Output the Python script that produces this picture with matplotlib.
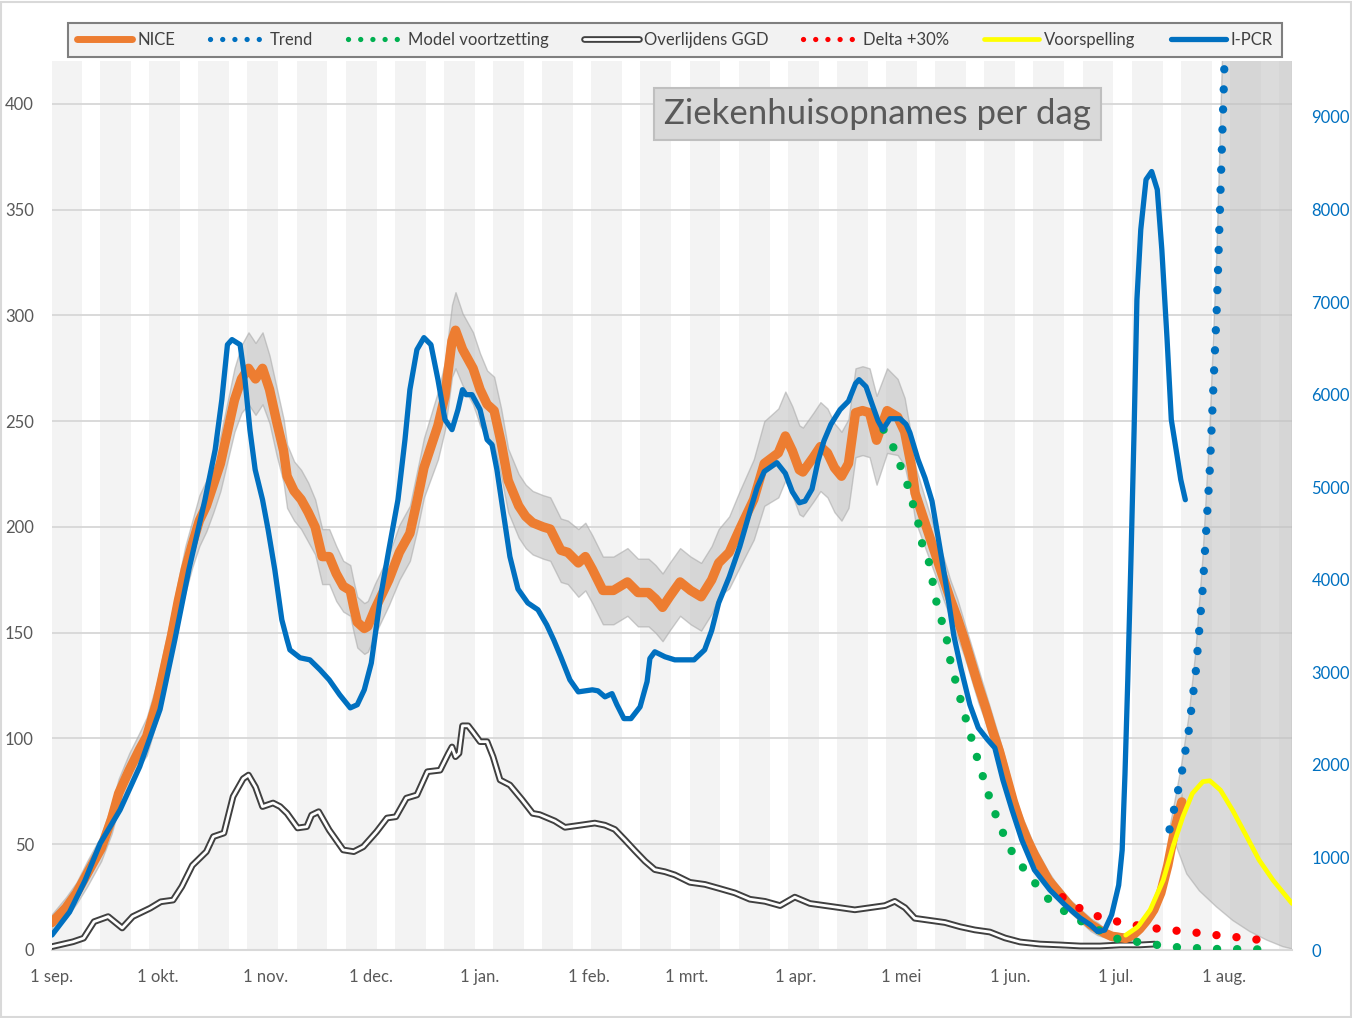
import numpy as np
import matplotlib
matplotlib.use("Agg")
import matplotlib.pyplot as plt
from matplotlib.lines import Line2D
from matplotlib.patches import Rectangle

plt.rcParams['font.family'] = ['Lato', 'DejaVu Sans']

# ---------------- data (day 0 = 1 sep 2020) ----------------
month_ticks = [0, 30, 61, 91, 122, 153, 181, 212, 242, 273, 303, 334]
month_labels = ['1 sep.', '1 okt.', '1 nov.', '1 dec.', '1 jan.', '1 feb.',
                '1 mrt.', '1 apr.', '1 mei', '1 jun.', '1 jul.', '1 aug.']

nice_days = [0, 4, 7, 10, 14, 17, 19, 22, 25, 27,
             30, 32, 34, 36, 38, 40, 42, 44, 46, 48,
             50, 52, 54, 56, 58, 60, 62, 64, 66, 67,
             69, 71, 73, 75, 77, 79, 81, 83, 85, 86,
             87, 89, 90, 92, 94, 96, 99, 102, 104, 106,
             108, 110, 112, 114, 115, 117, 119, 120, 122, 124,
             126, 128, 130, 133, 135, 137, 140, 142, 145, 147,
             150, 152, 154, 157, 160, 164, 167, 170, 172, 174,
             176, 179, 182, 185, 188, 190, 193, 196, 200, 203,
             207, 209, 211, 213, 214, 217, 219, 221, 223, 225,
             227, 229, 231, 233, 235, 238, 241, 243, 245, 246,
             248, 250, 252, 254, 256, 258, 260, 262, 264, 266,
             268, 270, 272, 274, 276, 278, 280, 282, 284, 286,
             288, 290, 292, 294, 296, 298, 300, 302, 304, 306,
             308, 310, 312, 314, 316, 318, 320, 322]
nice_vals = [13, 20, 27, 36, 48, 62, 74, 85, 95, 101,
             118, 133, 148, 165, 180, 192, 203, 210, 220, 230,
             245, 260, 270, 275, 270, 275, 265, 250, 236, 224,
             217, 213, 207, 200, 186, 186, 178, 172, 170, 162,
             155, 152, 153, 161, 168, 175, 188, 197, 212, 228,
             238, 248, 262, 288, 293, 284, 278, 275, 265, 258,
             255, 240, 222, 210, 205, 202, 200, 199, 189, 188,
             183, 186, 180, 170, 170, 174, 169, 169, 166, 162,
             167, 174, 170, 167, 175, 183, 188, 199, 213, 230,
             235, 243, 236, 227, 226, 233, 238, 235, 228, 224,
             230, 254, 255, 254, 241, 255, 252, 245, 228, 216,
             206, 196, 186, 176, 166, 157, 147, 136, 125, 115,
             104, 94, 82, 70, 60, 52, 45, 39, 33, 29,
             25, 21, 18, 15, 12, 10, 8, 6.5, 6, 5.5,
             7, 10, 14, 19, 27, 40, 57, 70]
nice_band = [4, 5, 5, 6, 6, 7, 7, 8, 8, 9,
             9, 10, 10, 10, 11, 11, 12, 12, 13, 13,
             14, 15, 16, 17, 17, 17, 16, 16, 15, 15,
             14, 14, 14, 13, 13, 13, 13, 12, 12, 12,
             12, 12, 12, 12, 12, 12, 13, 13, 14, 14,
             15, 16, 16, 17, 18, 17, 17, 17, 17, 16,
             16, 16, 15, 15, 15, 15, 15, 15, 15, 15,
             16, 16, 16, 16, 16, 16, 16, 16, 16, 16,
             16, 16, 16, 16, 16, 16, 17, 18, 19, 20,
             21, 21, 21, 21, 21, 21, 21, 21, 21, 21,
             21, 21, 21, 21, 21, 20, 18, 16, 14, 13,
             12, 11, 10, 10, 9, 9, 8, 8, 8, 7,
             7, 6, 6, 5, 5, 5, 4, 4, 4, 3,
             3, 3, 3, 3, 3, 3, 2, 2, 2, 2,
             2, 2, 2, 3, 3, 3, 4, 4]

trend_days = [318.5, 320, 322, 324, 326, 328, 330, 332, 334, 336]
trend_vals = [57, 68, 84, 104, 132, 172, 228, 305, 410, 550]
trend_hi_days = [318.5, 320, 322, 324, 326, 328, 330, 332, 334, 336, 340, 354]
trend_hi_vals = [57, 70, 88, 110, 141, 185, 246, 330, 445, 600, 1000, 3000]
trend_lo_days = [318.5, 320.5, 323.4, 327, 331.8, 336.5, 341.4, 346.2, 350.8, 353.5]
trend_lo_vals = [57, 48.8, 36, 28, 20.5, 14, 8.7, 4.7, 1.6, 0.5]

model_days = [237, 240, 242, 244, 245.5, 247, 248, 250, 251, 252,
              253.5, 255, 256, 258, 261, 264, 267, 270, 274, 279,
              284, 290, 297, 304, 309, 315, 320, 326, 332, 338, 344, 349]
model_vals = [246, 237, 228, 219, 210, 201, 192, 183, 174, 165,
              156, 147, 137, 124, 106, 89, 73, 59, 45, 34,
              24, 16.5, 10.4, 5, 3.9, 2.4, 1.4, 0.9, 0.5, 0.4, 0.3, 0.1]

death_days = [0, 6, 9, 12, 16, 20, 23, 28, 31, 34.5,
              37, 40, 44, 46, 49, 51.6, 54.5, 56, 58, 60,
              63, 65, 67, 70, 72.6, 74, 76, 79, 83, 86,
              88.7, 92.5, 95.5, 98, 101, 104, 107, 110.6, 113, 114,
              115, 116, 117, 118.6, 120, 122, 124, 125.7, 127.7, 130.5,
              134, 137,
              139, 143.3, 146.2, 150.5, 154.7, 157.6, 160.4, 163.3, 166.1, 169,
              171.8, 174.7, 177.5, 181.8, 186.1, 190.4, 194.6, 198.9, 203.2, 207.5,
              211.7, 216, 220.3, 224.6, 228.8, 233.1, 237.4, 240.2, 243.1, 245.9,
              250.2, 254.5, 258.8, 263, 267.3, 271.6, 275.9, 281.6, 287.3, 293,
              298.7, 304.4, 310, 314.3]
death_vals = [1.6, 3.9, 5.6, 13.4, 15.8, 10.4, 15.8, 19.8, 22.8, 23.6,
              30, 40, 46.5, 53.6, 55.3, 72.5, 81, 82.7, 77, 67.8,
              69.5, 67.8, 64.6, 57.7, 58.3, 63.8, 65.4, 56.7, 47.3, 46.5,
              48.8, 55.9, 62.4, 63, 71.8, 73.3, 84.3, 85, 93, 96,
              91.4, 93, 106, 106, 103, 98.5, 98.5, 91.4, 80.4, 78,
              71, 64.6,
              64, 61, 58, 59, 60, 59, 57, 52, 47, 42,
              38, 37, 35.5, 32, 31, 29, 27, 24, 23, 21,
              25, 22, 21, 20, 19, 20, 21, 23, 20, 15,
              14, 13, 11, 9.5, 8.5, 5.7, 3.8, 2.8, 2.4, 1.9,
              1.9, 2.4, 2.4, 2.8]

delta_days = [288, 292, 297, 302, 308, 314, 320, 326, 332, 338, 343, 348]
delta_vals = [25, 20.5, 16.5, 14, 12, 10.3, 9.2, 8.2, 7, 6, 5, 4]

forecast_days = [306, 309.5, 313, 316.7, 319.5, 322.3, 325, 328, 330, 333,
                 336.5, 340.5, 344, 348, 353.4]
forecast_vals = [7, 11, 19, 33, 49, 63, 74, 79.6, 80, 75.6,
                 66, 53.6, 42.6, 33, 22]

ipcr_days = [0, 5, 9.4, 13.7, 19.4, 25, 30.8, 35, 39, 43.6,
             46.5, 48.4, 50, 51.3, 53.6, 55, 56.4, 57.9, 60, 61.6,
             63.5, 65.5, 67, 67.8, 70.7, 73.5, 76.4, 79, 82, 85,
             87, 89, 91, 93.5, 96, 98.6, 100.6, 102, 104, 106,
             108, 110, 112, 114, 115.7, 117, 118, 119.7, 122, 124,
             125.4, 126.8, 128.5, 130.5, 132.8, 135.6, 138.5, 141, 143, 145,
             147.6, 150, 152, 154, 155.6, 157.6, 159.6, 161, 163, 165,
             167.6, 169.6, 170.4, 171.8, 174.7, 177.5, 180.4, 183, 186, 188,
             190, 193, 196, 199, 201, 203, 205, 206.6, 209, 211,
             213, 214.6, 216.6, 218.3, 220, 222, 224.6, 227, 229, 230,
             232, 233.7, 235.4, 236.8, 238.8, 241.7, 243.4, 244.5, 246.8, 248.8,
             250.8, 253, 255, 257, 259, 261.6, 264, 266.7, 268.7, 271,
             273.6, 276.4, 280, 284.4, 288.7, 293, 296, 298, 300, 302,
             304, 305, 305.8, 306.6, 307.5, 308.4, 309.2, 310.3, 311.8, 313.4,
             315, 316.3, 317.8, 319, 320.6, 321.7, 323]
ipcr_vals = [162, 410, 750, 1150, 1514, 1981, 2600, 3350, 4108, 4865,
             5405, 5946, 6540, 6595, 6540, 6162, 5622, 5190, 4865, 4540,
             4108, 3568, 3351, 3243, 3157, 3135, 3027, 2919, 2757, 2616,
             2650, 2811, 3100, 3784, 4324, 4865, 5514, 6054, 6486, 6616,
             6540, 6162, 5730, 5622, 5838, 6054, 6000, 6000, 5838, 5514,
             5460, 5190, 4757, 4250, 3900, 3750, 3676, 3513, 3350, 3168,
             2919, 2789, 2800, 2811, 2800, 2735, 2770, 2650, 2500, 2500,
             2627, 2900, 3150, 3222, 3168, 3135, 3135, 3135, 3243, 3450,
             3750, 4030, 4357, 4750, 5000, 5170, 5222, 5265, 5150, 4950,
             4832, 4850, 4980, 5280, 5500, 5680, 5838, 5930, 6120, 6162,
             6086, 5900, 5720, 5622, 5740, 5740, 5680, 5589, 5300, 5100,
             4850, 4357, 3900, 3400, 3050, 2650, 2400, 2270, 2184, 1838,
             1514, 1189, 865, 649, 486, 346, 270, 200, 215, 380,
             700, 1080, 1900, 2919, 4216, 5622, 7027, 7784, 8324, 8411,
             8216, 7568, 6595, 5730, 5351, 5081, 4865]

left_ticks = [0, 50, 100, 150, 200, 250, 300, 350, 400]
right_ticks = [0, 1000, 2000, 3000, 4000, 5000, 6000, 7000, 8000, 9000]

# ---------------- colours ----------------
C_NICE = '#ed7d31'
C_BLUE = '#0070c0'
C_GREEN = '#00b050'
C_RED = '#ff0000'
C_YELLOW = '#ffff00'
C_TEXT = '#595959'
DOT_LW = 6.0
DOTS = (0, (0.01, 2.4))

# ---------------- figure ----------------
W, H = 1352, 1018
fig = plt.figure(figsize=(W / 100, H / 100), dpi=100)
fig.patch.set_facecolor('white')
ax = fig.add_axes([52 / W, 1 - 950 / H, 1240 / W, 889 / H])
ax.set_xlim(0, 353.4)
ax.set_ylim(0, 420.3)

# background stripes (two-week rhythm)
for k in range(0, 27):
    ax.axvspan(14 * k - 0.3, 14 * k + 8.5, color='#f3f3f3', lw=0, zorder=0.1)

ax.set_axisbelow(True)
ax.set_yticks(left_ticks)
ax.yaxis.grid(True, color='#d9d9d9', lw=1.4)
ax.xaxis.grid(False)

nd = np.array(nice_days, float)
nv = np.array(nice_vals, float)
nb = np.array(nice_band, float)
ax.fill_between(nd, nv - nb, nv + nb, facecolor='#bfbfbf', alpha=0.55,
                edgecolor='#a6a6a6', lw=1.0, zorder=2)

ax.fill(np.r_[trend_hi_days, trend_lo_days[::-1]],
        np.r_[trend_hi_vals, trend_lo_vals[::-1]],
        facecolor='#bfbfbf', alpha=0.55, edgecolor='#a6a6a6', lw=1.0, zorder=2.1)

ax.plot(death_days, death_vals, color='#404040', lw=4.8, zorder=3,
        solid_joinstyle='round', solid_capstyle='round')
ax.plot(death_days, death_vals, color='white', lw=2.0, zorder=3.1,
        solid_joinstyle='round', solid_capstyle='round')

ax.plot(nice_days, nice_vals, color=C_NICE, lw=6.8, zorder=4,
        solid_joinstyle='round', solid_capstyle='round')

ax.plot(model_days, model_vals, color=C_GREEN, lw=DOT_LW, ls=DOTS,
        dash_capstyle='round', zorder=5)
ax.plot(delta_days, delta_vals, color=C_RED, lw=DOT_LW, ls=DOTS,
        dash_capstyle='round', zorder=5)
ax.plot(forecast_days, forecast_vals, color=C_YELLOW, lw=3.4, zorder=6,
        solid_capstyle='round')
ax.plot(trend_days, trend_vals, color=C_BLUE, lw=DOT_LW, ls=DOTS,
        dash_capstyle='round', zorder=7)

ax.set_xticks(month_ticks)
ax.set_xticklabels(month_labels)
ax.tick_params(axis='both', length=0, labelsize=12, labelcolor=C_TEXT)
ax.tick_params(axis='y', pad=13)
ax.tick_params(axis='x', pad=14)
for s in ['top', 'left', 'right']:
    ax.spines[s].set_visible(False)
ax.spines['bottom'].set_color('#d9d9d9')
ax.spines['bottom'].set_linewidth(1.5)

ax2 = ax.twinx()
ax2.set_ylim(0, 9605)
ax2.plot(ipcr_days, ipcr_vals, color=C_BLUE, lw=3.8, zorder=5,
         solid_joinstyle='round', solid_capstyle='round')
ax2.set_yticks(right_ticks)
ax2.tick_params(axis='y', length=0, labelsize=12, labelcolor=C_BLUE, pad=14)
for s in ax2.spines.values():
    s.set_visible(False)

# title box
fig.text(877.5 / W, 1 - 114 / H, 'Ziekenhuisopnames per dag', ha='center',
         va='center', fontsize=25, color=C_TEXT,
         bbox=dict(boxstyle='square,pad=0.3', fc='#d9d9d9', ec='#bfbfbf', lw=1.5))

# legend
LDOTS = (0, (0.01, 2.3))
handles = [
    Line2D([], [], color=C_NICE, lw=5.0, solid_capstyle='round'),
    Line2D([], [], color=C_BLUE, lw=3.8, ls=LDOTS, dash_capstyle='round'),
    Line2D([], [], color=C_GREEN, lw=3.8, ls=LDOTS, dash_capstyle='round'),
    (Line2D([], [], color='#404040', lw=4.8, solid_capstyle='round'),
     Line2D([], [], color='white', lw=2.0, solid_capstyle='round')),
    Line2D([], [], color=C_RED, lw=3.8, ls=LDOTS, dash_capstyle='round'),
    Line2D([], [], color=C_YELLOW, lw=3.4, solid_capstyle='round'),
    Line2D([], [], color=C_BLUE, lw=3.8, solid_capstyle='round'),
]
labels = ['NICE', 'Trend', 'Model voortzetting', 'Overlijdens GGD',
          'Delta +30%', 'Voorspelling', 'I-PCR']
leg = fig.legend(handles, labels, loc='lower left',
                 bbox_to_anchor=(68 / W, 1 - 57 / H, (1282 - 68) / W, 35 / H),
                 mode='expand', ncol=7, frameon=True, fancybox=False,
                 edgecolor='#7f7f7f', facecolor='#f2f2f2', framealpha=1,
                 fontsize=12, handlelength=3.3, handletextpad=0.3,
                 borderaxespad=0, labelcolor='#404040', borderpad=0.55)
leg.get_frame().set_linewidth(1.5)

fig.patches.append(Rectangle((0.001, 0.001), 0.998, 0.997, transform=fig.transFigure,
                             fill=False, ec='#d9d9d9', lw=1.5))

fig.savefig('out.png', dpi=100)
